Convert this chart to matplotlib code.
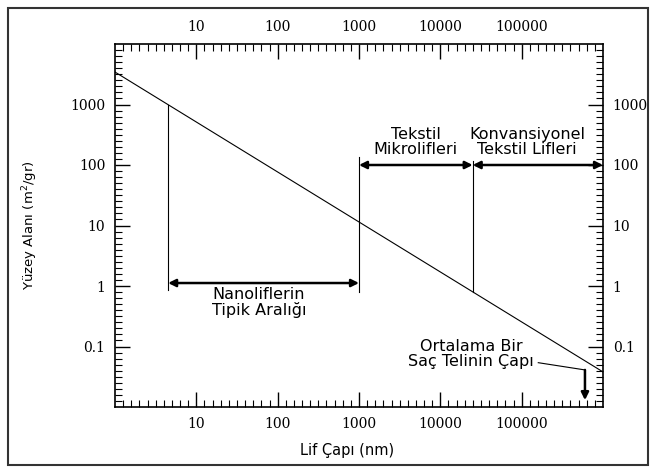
import numpy as np
import matplotlib.pyplot as plt
from matplotlib.patches import Rectangle
from matplotlib.ticker import FixedLocator, NullFormatter

# veri
diameter_nm = [1, 1e6]
surface_area = [3440, 0.038]

nano_range = [4.5, 1000]
micro_range = [1000, 25000]
conv_range = [25000, 1e6]
hair_diameter = 6.0e5

x_ticks = [10, 100, 1000, 10000, 100000]
x_tick_labels = ['10', '100', '1000', '10000', '100000']
y_ticks = [0.1, 1, 10, 100, 1000]
y_tick_labels = ['0.1', '1', '10', '100', '1000']

fig = plt.figure(figsize=(6.54, 4.67), dpi=100)
ax = fig.add_axes([115 / 654, 1 - 407 / 467, 488 / 654, 363 / 467])

ax.set_xscale('log')
ax.set_yscale('log')
ax.set_xlim(1, 1e6)
ax.set_ylim(0.01, 1e4)

# ana çizgi
ax.plot(diameter_nm, surface_area, color='black', lw=0.8)

# dikey çizgiler
ax.plot([nano_range[0]] * 2, [0.85, 1000], color='black', lw=0.8)
ax.plot([nano_range[1]] * 2, [0.8, 135], color='black', lw=0.8)
ax.plot([micro_range[1]] * 2, [0.8, 117], color='black', lw=0.8)

# oklar
arrow = dict(arrowstyle='<|-|>', color='black', lw=1.8, mutation_scale=11, shrinkA=0, shrinkB=0)
ax.annotate('', xy=(nano_range[0], 1.12), xytext=(nano_range[1], 1.12), arrowprops=arrow)
ax.annotate('', xy=(micro_range[0], 100), xytext=(micro_range[1], 100), arrowprops=arrow)
ax.annotate('', xy=(conv_range[0], 100), xytext=(conv_range[1], 100), arrowprops=arrow)

# saç teli
ax.plot([1.6e5, hair_diameter], [0.054, 0.041], color='black', lw=0.8)
ax.annotate('', xy=(hair_diameter, 0.013), xytext=(hair_diameter, 0.041),
            arrowprops=dict(arrowstyle='-|>', color='black', lw=1.8, mutation_scale=11,
                            shrinkA=0, shrinkB=0))

# yazılar
txt = dict(ha='center', va='center', fontsize=11.5, family='DejaVu Sans', linespacing=1.0)
ax.text(5000, 236, 'Tekstil\nMikrolifleri', **txt)
ax.text(1.17e5, 236, 'Konvansiyonel\nTekstil Lifleri', **txt)
ax.text(59, 0.53, 'Nanoliflerin\nTipik Aralığı', **txt)
ax.text(24000, 0.075, 'Ortalama Bir\nSaç Telinin Çapı', **txt)

# eksenler
ax.set_xticks(x_ticks)
ax.set_xticklabels(x_tick_labels)
ax.set_yticks(y_ticks)
ax.set_yticklabels(y_tick_labels)
# ara çentikler: her on yılda eşit aralıklı
ax.xaxis.set_minor_locator(FixedLocator(10 ** (np.arange(1, 60) / 10)))
ax.yaxis.set_minor_locator(FixedLocator(10 ** (np.arange(-19, 40) / 10)))
ax.xaxis.set_minor_formatter(NullFormatter())
ax.yaxis.set_minor_formatter(NullFormatter())

ax.tick_params(which='both', direction='in', top=True, right=True,
               labeltop=True, labelright=True, color='black',
               labelfontfamily='DejaVu Serif', labelsize=10)
ax.tick_params(axis='y', which='major', length=11, width=1, pad=7)
ax.tick_params(axis='y', which='minor', length=5, width=0.8)
ax.tick_params(axis='x', which='major', length=11, width=1, pad=7)
ax.tick_params(axis='x', which='minor', length=5, width=0.8)
for s in ax.spines.values():
    s.set_linewidth(1.2)

ax.set_ylabel('Yüzey Alanı (m$^2$/gr)', fontsize=9.5, family='DejaVu Sans')
ax.yaxis.set_label_coords((40 - 115) / 488, 0.5)
fig.text(347 / 654, 1 - 450 / 467, 'Lif Çapı (nm)', ha='center', va='center',
         fontsize=10.5, family='DejaVu Sans')

# dış çerçeve
fig.patches.append(Rectangle((8 / 654, 2 / 467), 640 / 654, 457 / 467, transform=fig.transFigure,
                             fill=False, edgecolor='#333333', lw=1.5))

fig.savefig('out.png', dpi=100)
